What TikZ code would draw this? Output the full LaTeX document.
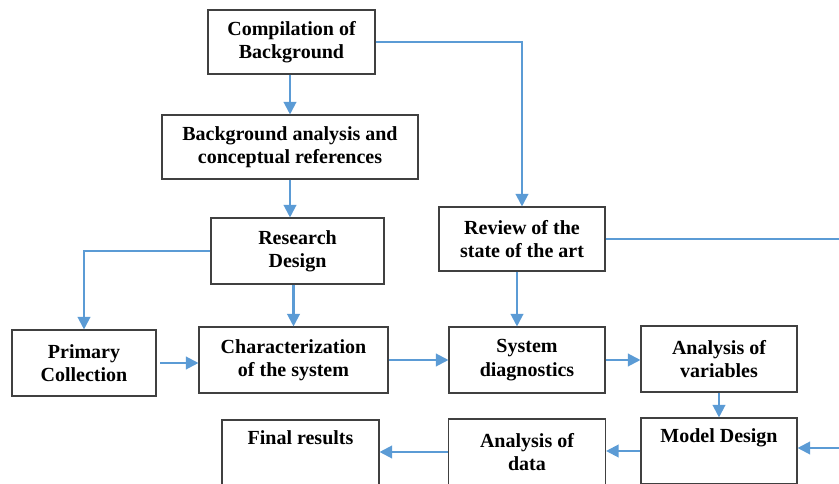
\documentclass[tikz,border=0pt]{standalone}
\usepackage{fontspec}
\setmainfont{Liberation Serif}
\usepackage{xcolor}
\usepackage{tikz}
\usetikzlibrary{arrows.meta}
\usetikzlibrary{positioning}
\definecolor{flowblue}{HTML}{5B9BD5}
\definecolor{boxgray}{HTML}{404040}
\tikzstyle{stage}=[rectangle,draw=boxgray,line width=0.8pt,fill=white,inner sep=0pt,align=center,font=\bfseries\fontsize{15}{17.5}\selectfont]
\tikzstyle{flow}=[draw=flowblue,line width=1.6pt,-{Triangle[length=9.5pt,width=9.5pt]}]
\tikzstyle{plain}=[draw=flowblue,line width=1.6pt]

\begin{document}
\begin{tikzpicture}[x=0.75pt,y=-0.75pt]
\useasboundingbox (0,0) rectangle (839,484);
\clip (0,0) rectangle (839,484);

%top column
\node[stage,minimum width=125.25pt,minimum height=48pt] (comp) at (291.5,42) {Compilation of\\Background};
\node[stage,minimum width=192pt,minimum height=48pt] (bga) at (290,147) {Background analysis and\\conceptual references};
\node[stage,minimum width=129.75pt,minimum height=49.5pt] (resd) at (297.5,251) {Research\\Design};
\node[stage,minimum width=124.5pt,minimum height=48pt] (review) at (522,239) {Review of the\\state of the art};

%middle row
\node[stage,minimum width=108pt,minimum height=49.5pt] (prim) at (84,363) {Primary\\Collection};
\node[stage,minimum width=141.75pt,minimum height=49.5pt] (charac) at (293.5,360) {Characterization\\of the system};
\node[stage,minimum width=117pt,minimum height=49.5pt] (sysd) at (527,360) {System\\diagnostics};
\node[stage,minimum width=117pt,minimum height=49.5pt] (anvar) at (719,359) {Analysis of\\variables};

%bottom row
\node[stage,minimum width=117pt,minimum height=49.5pt] (model) at (719,451) {Model Design\\\strut};
\node[stage,minimum width=117.75pt,minimum height=49.5pt] (adata) at (527,452) {Analysis of\\data};
\node[stage,minimum width=117.75pt,minimum height=49.5pt] (final) at (300.5,453) {Final results\\\strut};

\coordinate (rtop) at (839,239);
\coordinate (rbot) at (839,448);

%connectors
\draw[flow] (comp.south -| bga.north) -- (bga.north);
\draw[flow] (comp.east) -| (review.north);
\draw[flow] (bga.south) -- (bga.south |- resd.north);
\draw[flow] (resd.west) -| (prim.north);
\draw[flow] (resd.south -| charac.north) -- (charac.north);
\draw[plain] (review.east) -- (rtop);
\draw[flow] ([xshift=-3.75pt]review.south) -- ([xshift=-3.75pt]review.south |- sysd.north);
\draw[flow] (prim.east -| 160,0) -- (prim.east -| charac.west);
\draw[flow] (charac.east) -- (charac.east -| sysd.west);
\draw[flow] (sysd.east) -- (sysd.east -| anvar.west);
\draw[flow] (anvar.south) -- (model.north);
\draw[flow] (rbot) -- (rbot -| model.east);
\draw[flow] (model.west) -- (model.west -| adata.east);
\draw[flow] (adata.west) -- (adata.west -| final.east);
\end{tikzpicture}
\end{document}
